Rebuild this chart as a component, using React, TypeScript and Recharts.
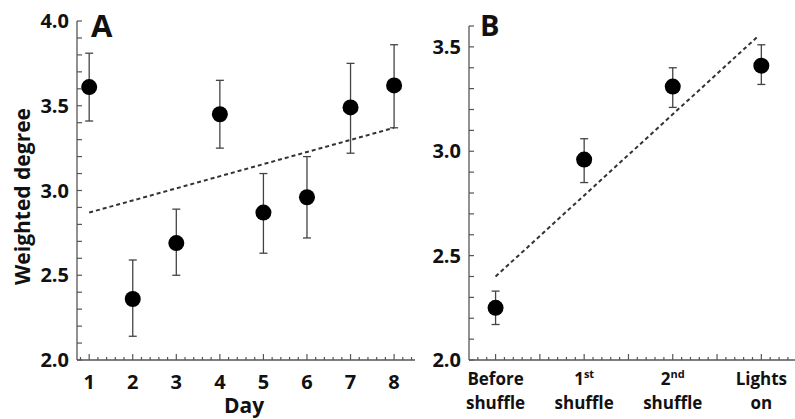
import { ScatterChart, Scatter, XAxis, YAxis, ErrorBar, ReferenceLine } from "recharts";

// Panel A: weighted degree per day
const days = [1, 2, 3, 4, 5, 6, 7, 8];
const dayMeans = [3.61, 2.36, 2.69, 3.45, 2.87, 2.96, 3.49, 3.62];
const dayUpper = [3.81, 2.59, 2.89, 3.65, 3.1, 3.2, 3.75, 3.86];
const dayLower = [3.41, 2.14, 2.5, 3.25, 2.63, 2.72, 3.22, 3.37];
const dayTrend = [
  { x: 1, y: 2.87 },
  { x: 8, y: 3.37 },
];

// Panel B: weighted degree per stage
const stagePos = [1, 2, 3, 4];
const stageTop = ["Before", "1", "2", "Lights"];
const stageSup = ["", "st", "nd", ""];
const stageBottom = ["shuffle", "shuffle", "shuffle", "on"];
const stageMeans = [2.25, 2.96, 3.31, 3.41];
const stageUpper = [2.33, 3.06, 3.4, 3.51];
const stageLower = [2.17, 2.85, 3.21, 3.32];
const stageTrend = [
  { x: 1, y: 2.4 },
  { x: 3.96, y: 3.55 },
];

const yTicksA = [2.0, 2.1, 2.2, 2.3, 2.4, 2.5, 2.6, 2.7, 2.8, 2.9, 3.0, 3.1, 3.2, 3.3, 3.4, 3.5, 3.6, 3.7, 3.8, 3.9, 4.0];
const yTicksB = [2.0, 2.1, 2.2, 2.3, 2.4, 2.5, 2.6, 2.7, 2.8, 2.9, 3.0, 3.1, 3.2, 3.3, 3.4, 3.5, 3.6];

const steps = (from: number, to: number, step: number) => {
  const out: number[] = [];
  for (let v = from; v <= to + 1e-9; v += step) out.push(Math.round(v * 100) / 100);
  return out;
};
const xTicksA = steps(0.8, 8.4, 0.2);
const xTicksB = steps(0.8, 4.3, 0.1);

const FONT = "'Open Sans', sans-serif";
const AXIS = "#555";
const INK = "#111";

const isStep = (v: number, s: number) => Math.abs(v / s - Math.round(v / s)) < 1e-6;

const buildPoints = (xs: number[], means: number[], lo: number[], hi: number[]) =>
  xs.map((x, i) => ({ x, y: means[i], err: [means[i] - lo[i], hi[i] - means[i]] }));

const dataA = buildPoints(days, dayMeans, dayLower, dayUpper);
const dataB = buildPoints(stagePos, stageMeans, stageLower, stageUpper);

const Dot = (props: any) => <circle cx={props.cx} cy={props.cy} r={8} fill="#000" />;

const YTick = (props: any) => {
  const { x, y, payload } = props;
  const v = payload.value;
  return (
    <g>
      <path d={`M${x},${y}h5`} stroke={AXIS} strokeWidth={1.2} fill="none" />
      {isStep(v, 0.5) && (
        <text x={x - 8} y={y} dy="0.36em" textAnchor="end" fontFamily={FONT} fontWeight={700} fontSize={20} fill={INK}>
          {v.toFixed(1)}
        </text>
      )}
    </g>
  );
};

const XTickA = (props: any) => {
  const { x, y, payload } = props;
  const v = payload.value;
  const major = isStep(v, 1);
  return (
    <g>
      <path d={`M${x},${y}v${major ? -6 : -3}`} stroke={AXIS} strokeWidth={1.2} fill="none" />
      {major && (
        <text x={x} y={y + 29} textAnchor="middle" fontFamily={FONT} fontWeight={700} fontSize={20} fill={INK}>
          {v}
        </text>
      )}
    </g>
  );
};

const XTickB = (props: any) => {
  const { x, y, payload } = props;
  const v = payload.value;
  const major = isStep(v, 0.5);
  const i = stagePos.indexOf(v);
  return (
    <g>
      <path d={`M${x},${y}v${major ? -6 : -3}`} stroke={AXIS} strokeWidth={1.2} fill="none" />
      {i >= 0 && (
        <text textAnchor="middle" fontFamily={FONT} fontWeight={700} fontSize={17} fill={INK}>
          <tspan x={x} y={y + 25}>
            {stageTop[i]}
            {stageSup[i] && (
              <tspan fontSize={11} dy={-7}>
                {stageSup[i]}
              </tspan>
            )}
          </tspan>
          <tspan x={x} y={y + 49}>
            {stageBottom[i]}
          </tspan>
        </text>
      )}
    </g>
  );
};

const yTitle = ({ viewBox }: any) => {
  const cx = viewBox.x + 22;
  const cy = viewBox.y + viewBox.height / 2 + 6;
  return (
    <text
      x={cx}
      y={cy}
      transform={`rotate(-90 ${cx} ${cy})`}
      textAnchor="middle"
      dy="0.36em"
      fontFamily={FONT}
      fontWeight={700}
      fontSize={21}
      fill={INK}
    >
      Weighted degree
    </text>
  );
};

const xTitle = ({ viewBox }: any) => (
  <text
    x={viewBox.x + viewBox.width / 2 - 2}
    y={viewBox.y + 53}
    textAnchor="middle"
    fontFamily={FONT}
    fontWeight={700}
    fontSize={21}
    fill={INK}
  >
    Day
  </text>
);

export default function App() {
  return (
    <div style={{ position: "absolute", left: 0, top: 0, width: 795, height: 419, background: "#fff" }}>
      <div style={{ position: "absolute", left: 0, top: 0 }}>
        <ScatterChart width={420} height={419} margin={{ top: 21, right: 5, bottom: 29, left: 0 }}>
          <XAxis
            type="number"
            dataKey="x"
            domain={[0.72, 8.48]}
            ticks={xTicksA}
            interval={0}
            height={30}
            tickSize={0}
            tickMargin={0}
            tickLine={false}
            tick={<XTickA />}
            stroke={AXIS}
            strokeWidth={1.3}
            allowDataOverflow
            label={xTitle}
          />
          <YAxis
            type="number"
            dataKey="y"
            domain={[2, 4]}
            ticks={yTicksA}
            interval={0}
            width={77}
            tickSize={0}
            tickMargin={0}
            tickLine={false}
            tick={<YTick />}
            stroke={AXIS}
            strokeWidth={1.3}
            allowDataOverflow
            label={yTitle}
          />
          <ReferenceLine segment={dayTrend} stroke="#333" strokeWidth={2} strokeDasharray="4 3" ifOverflow="visible" />
          <Scatter data={dataA} shape={<Dot />} isAnimationActive={false}>
            <ErrorBar dataKey="err" direction="y" width={4} stroke="#444" strokeWidth={1.3} isAnimationActive={false} />
          </Scatter>
        </ScatterChart>
      </div>
      <div style={{ position: "absolute", left: 400, top: 0 }}>
        <ScatterChart width={395} height={419} margin={{ top: 26, right: 0, bottom: 29, left: 0 }}>
          <XAxis
            type="number"
            dataKey="x"
            domain={[0.7, 4.38]}
            ticks={xTicksB}
            interval={0}
            height={30}
            tickSize={0}
            tickMargin={0}
            tickLine={false}
            tick={<XTickB />}
            stroke={AXIS}
            strokeWidth={1.3}
            allowDataOverflow
          />
          <YAxis
            type="number"
            dataKey="y"
            domain={[2, 3.6]}
            ticks={yTicksB}
            interval={0}
            width={69}
            tickSize={0}
            tickMargin={0}
            tickLine={false}
            tick={<YTick />}
            stroke={AXIS}
            strokeWidth={1.3}
            allowDataOverflow
          />
          <ReferenceLine segment={stageTrend} stroke="#333" strokeWidth={2} strokeDasharray="4 3" ifOverflow="visible" />
          <Scatter data={dataB} shape={<Dot />} isAnimationActive={false}>
            <ErrorBar dataKey="err" direction="y" width={4} stroke="#444" strokeWidth={1.3} isAnimationActive={false} />
          </Scatter>
        </ScatterChart>
      </div>
      <svg width={795} height={419} style={{ position: "absolute", left: 0, top: 0, pointerEvents: "none" }}>
        <text x={91} y={37} fontFamily={FONT} fontWeight={700} fontSize={31} fill={INK}>
          A
        </text>
        <text x={480} y={36} fontFamily={FONT} fontWeight={700} fontSize={29} fill={INK}>
          B
        </text>
      </svg>
    </div>
  );
}
